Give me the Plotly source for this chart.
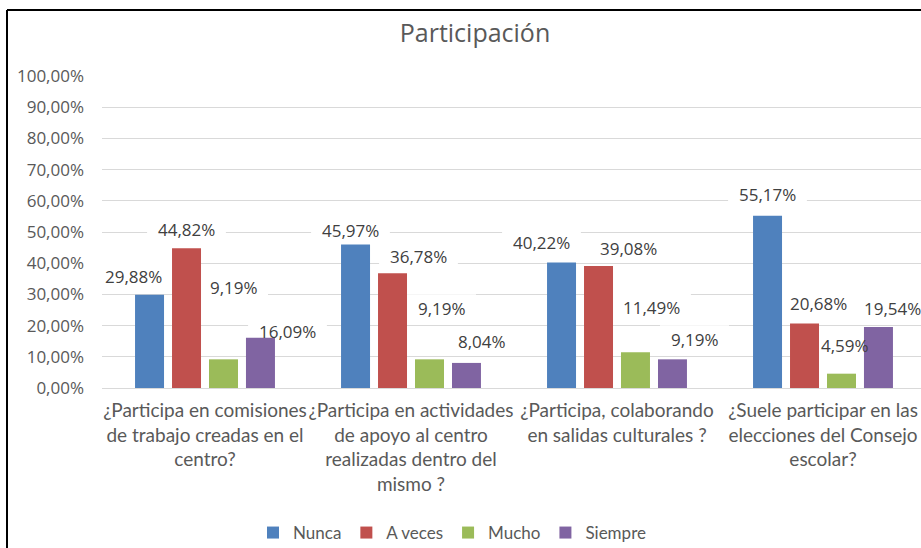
import plotly.graph_objects as go

categories = [
    "¿Participa en comisiones<br>de trabajo creadas en el<br>centro?",
    "¿Participa en actividades<br>de apoyo al centro<br>realizadas dentro del<br>mismo ?",
    "¿Participa, colaborando<br>en salidas culturales ?",
    "¿Suele participar en las<br>elecciones del Consejo<br>escolar?",
]
series_names = ["Nunca", "A veces", "Mucho", "Siempre"]
nunca = [29.88, 45.97, 40.22, 55.17]
a_veces = [44.82, 36.78, 39.08, 20.68]
mucho = [9.19, 9.19, 11.49, 4.59]
siempre = [16.09, 8.04, 9.19, 19.54]
y_ticks = [0, 10, 20, 30, 40, 50, 60, 70, 80, 90, 100]

colors = ["#4F81BD", "#C0504D", "#9BBB59", "#8064A2"]
series_values = [nunca, a_veces, mucho, siempre]

# label placement offsets (px) relative to each bar's top-centre
label_dx = [[-16, -5, -20, 0], [0, 26, 30, 14], [10, 12, 16, 3], [27, 15, 22, 14]]
label_dy = [[18, 14, 20, 21], [19, 17, 18, 20], [72, 51, 45, 28], [6, 21, 20, 19]]

W, H = 921, 548
ML, MR, MT, MB = 102, 0, 76, 160
plot_w = W - ML - MR
plot_h = H - MT - MB
cat_px = 206.0
slot_px = 37.0

fig = go.Figure()
xs = list(range(len(categories)))
for name, vals, col in zip(series_names, series_values, colors):
    fig.add_trace(go.Bar(
        x=xs, y=[v / 100 for v in vals], name=name,
        marker=dict(color=col, line=dict(width=0)),
        hoverinfo="skip",
    ))

def fmt(v):
    return f"{v:.2f}".replace(".", ",") + "%"

annotations = []
shapes = []
for si, vals in enumerate(series_values):
    bar_off = (si - 1.5) * slot_px
    for ci, v in enumerate(vals):
        txt = fmt(v)
        cx = bar_off + label_dx[si][ci]
        cy = label_dy[si][ci]
        annotations.append(dict(
            x=ci, y=v / 100, xref="x", yref="y",
            text=txt, showarrow=False,
            xshift=cx, yshift=cy,
            xanchor="center", yanchor="middle",
            font=dict(family="Open Sans", size=17, color="#404040"),
        ))
        half_w = len(txt) * 4.9 + 10
        shapes.append(dict(
            type="rect", layer="between",
            xref="x", yref="y",
            xsizemode="pixel", ysizemode="pixel",
            xanchor=ci, yanchor=v / 100,
            x0=cx - half_w, x1=cx + half_w,
            y0=cy - 14, y1=cy + 14,
            fillcolor="white", line=dict(width=0),
        ))

def px_x(p):
    return (p - ML) / plot_w

def px_y(p):
    return (H - MB - p) / plot_h

shapes += [
    dict(type="line", xref="paper", yref="paper",
         x0=px_x(7), x1=px_x(7), y0=px_y(H + 5), y1=px_y(10),
         line=dict(color="black", width=2)),
    dict(type="line", xref="paper", yref="paper",
         x0=px_x(7), x1=px_x(W + 5), y0=px_y(10), y1=px_y(10),
         line=dict(color="black", width=2)),
]

fig.update_layout(
    width=W, height=H,
    margin=dict(l=ML, r=MR, t=MT, b=MB, pad=0, autoexpand=False),
    paper_bgcolor="white", plot_bgcolor="white",
    separators=",.",
    barmode="group", bargap=0.282, bargroupgap=0.216,
    title=dict(text="Participación", x=475 / W, xanchor="center",
               y=1 - 33 / H, yanchor="middle",
               font=dict(family="Open Sans", size=25, color="#595959")),
    xaxis=dict(
        tickmode="array", tickvals=xs, ticktext=categories,
        range=[-0.5, -0.5 + plot_w / cat_px],
        showgrid=False, zeroline=False,
        showline=True, linecolor="#d9d9d9", linewidth=1,
        ticks="", tickangle=0, ticklabelstandoff=5,
        tickfont=dict(family="Lato", size=19, color="#595959"),
    ),
    yaxis=dict(
        range=[0, 1], tickvals=[t / 100 for t in y_ticks], tickformat=".2%",
        showgrid=True, gridcolor="#d9d9d9", gridwidth=1,
        zeroline=False, showline=False, ticks="",
        ticklabelstandoff=17,
        tickfont=dict(family="Open Sans", size=17, color="#595959"),
    ),
    legend=dict(orientation="h", x=px_x(452), xanchor="center",
                y=px_y(533), yanchor="middle",
                font=dict(family="Lato", size=17, color="#595959"),
                itemwidth=30, tracegroupgap=0),
    annotations=annotations,
    shapes=shapes,
    showlegend=True,
)

fig.write_html("out.html", config={"displayModeBar": False},
               post_script="document.body.style.margin='0';")
